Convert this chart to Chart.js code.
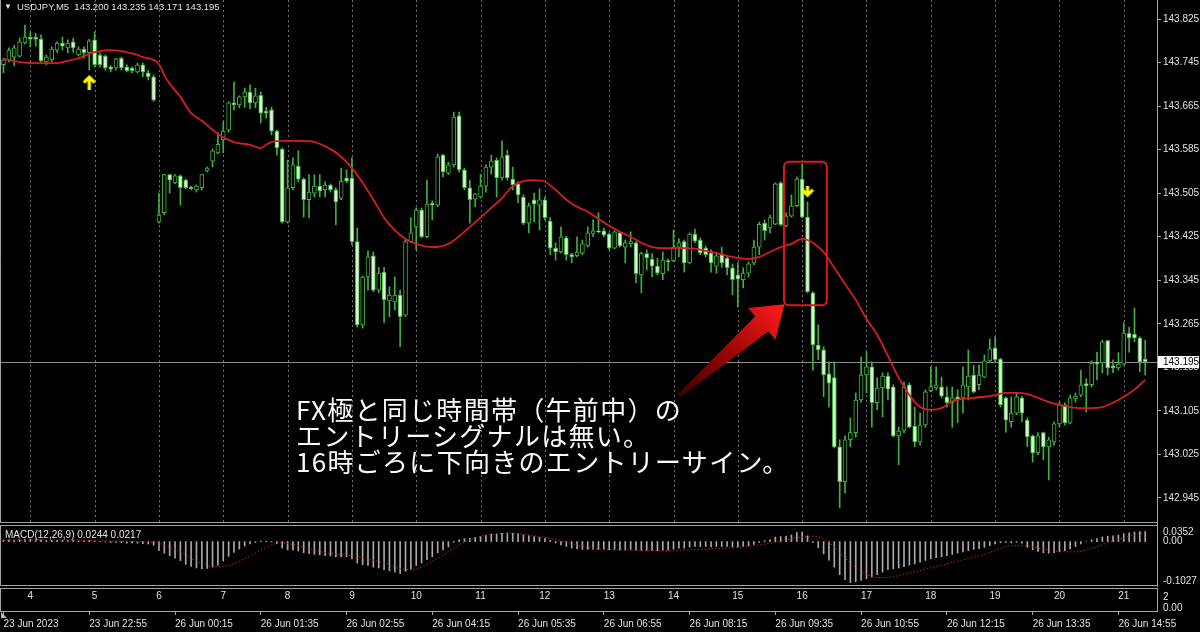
<!DOCTYPE html>
<html lang="ja"><head><meta charset="utf-8">
<title>USDJPY,M5</title>
<script src="https://cdn.jsdelivr.net/npm/chart.js@4.4.1/dist/chart.umd.min.js"></script>
<style>
html,body{margin:0;padding:0;background:#000;width:1200px;height:632px;overflow:hidden;}
#wrap{position:relative;width:1200px;height:632px;background:#000;}
canvas{position:absolute;left:0;}
#cMain{top:0;} #cMacd{top:523px;} #cBot{top:587px;}
.txt{position:absolute;color:#e2e2e2;font-family:"Liberation Sans",Arial,sans-serif;font-size:10px;line-height:12px;white-space:pre;}
#note{position:absolute;left:296px;top:396px;color:#fafafa;font-family:"Noto Sans CJK JP",sans-serif;font-size:26px;line-height:26px;letter-spacing:1.3px;white-space:nowrap;}
</style></head>
<body>
<div id="wrap">
<canvas id="cMain" width="1200" height="523"></canvas>
<canvas id="cMacd" width="1200" height="64"></canvas>
<canvas id="cBot" width="1200" height="45"></canvas>
<div class="txt" style="left:4px;top:1px;font-size:8px;">▼</div>
<div class="txt" id="hdr" style="left:17px;top:1px;font-size:9.5px;"></div>
<div class="txt" id="macdLbl" style="left:5px;top:529px;"></div>
<div id="note">FX極と同じ時間帯（午前中）の<br>エントリーシグナルは無い。<br>16時ごろに下向きのエントリーサイン。</div>
</div>
<script>
// ---------------- data ----------------
const symbol = 'USDJPY,M5';
const openP = [
143.741,143.750,143.755,143.757,143.781,143.792,143.792,143.788,143.746,143.750,
143.768,143.781,143.772,143.783,143.759,143.770,143.763,143.787,143.759,143.757,
143.737,143.735,143.753,143.737,143.735,143.728,143.741,143.726,143.719,143.452,
143.469,143.539,143.524,143.537,143.529,143.516,143.511,143.515,143.546,143.564,
143.579,143.603,143.621,143.671,143.667,143.682,143.691,143.671,143.685,143.656,
143.658,143.619,143.586,143.452,143.515,143.555,143.531,143.493,143.505,143.518,
143.511,143.520,143.511,143.496,143.533,143.533,143.416,143.263,143.351,143.390,
143.327,143.360,143.307,143.305,143.318,143.281,143.416,143.443,143.474,143.425,
143.487,143.483,143.575,143.542,143.557,143.647,143.548,143.515,143.494,143.498,
143.518,143.553,143.566,143.533,143.575,143.531,143.522,143.498,143.450,143.493,
143.483,143.493,143.454,143.404,143.397,143.423,143.392,143.390,143.395,143.408,
143.430,143.436,143.436,143.430,143.404,143.432,143.406,143.412,143.414,143.355,
143.394,143.384,143.371,143.357,143.381,143.381,143.406,143.416,143.377,143.430,
143.419,143.404,143.395,143.371,143.392,143.386,143.368,143.355,143.346,143.358,
143.377,143.406,143.450,143.441,143.448,143.524,143.445,143.463,143.482,143.531,
143.461,143.322,143.226,143.217,143.173,143.166,143.039,142.975,143.052,143.065,
143.125,143.171,143.186,143.120,143.147,143.169,143.149,143.059,143.068,143.153,
143.077,143.048,143.079,143.142,143.147,143.149,143.131,143.120,143.131,143.129,
143.149,143.171,143.153,143.167,143.197,143.221,143.200,143.129,143.085,143.101,
143.129,143.088,143.059,143.028,143.065,143.039,143.048,143.081,143.116,143.083,
143.127,143.134,143.155,143.153,143.195,143.193,143.234,143.188,143.184,143.191,
143.248,143.246,143.239,143.200];
const highP = [
143.753,143.772,143.777,143.790,143.814,143.801,143.799,143.796,143.759,143.774,
143.783,143.792,143.787,143.790,143.774,143.774,143.788,143.801,143.763,143.759,
143.739,143.753,143.755,143.741,143.737,143.744,143.744,143.731,143.722,143.505,
143.540,143.540,143.539,143.539,143.531,143.518,143.520,143.540,143.553,143.586,
143.616,143.636,143.673,143.709,143.684,143.698,143.704,143.698,143.691,143.663,
143.663,143.621,143.588,143.566,143.570,143.583,143.533,143.539,143.539,143.539,
143.526,143.522,143.515,143.551,143.548,143.570,143.441,143.353,143.399,143.397,
143.369,143.369,143.333,143.351,143.327,143.419,143.460,143.478,143.478,143.529,
143.491,143.577,143.577,143.562,143.654,143.654,143.551,143.529,143.505,143.540,
143.557,143.575,143.570,143.601,143.584,143.553,143.526,143.502,143.487,143.505,
143.513,143.498,143.460,143.414,143.443,143.426,143.395,143.425,143.419,143.443,
143.456,143.469,143.441,143.432,143.436,143.434,143.419,143.434,143.416,143.397,
143.401,143.394,143.386,143.397,143.384,143.437,143.421,143.419,143.432,143.439,
143.423,143.408,143.401,143.395,143.406,143.388,143.375,143.377,143.368,143.379,
143.419,143.452,143.456,143.465,143.524,143.526,143.469,143.502,143.535,143.559,
143.489,143.324,143.263,143.223,143.195,143.195,143.052,143.059,143.092,143.138,
143.204,143.213,143.195,143.166,143.175,143.175,143.153,143.075,143.158,143.156,
143.112,143.101,143.144,143.186,143.186,143.167,143.149,143.149,143.144,143.186,
143.217,143.189,143.189,143.208,143.237,143.241,143.202,143.131,143.131,143.138,
143.132,143.092,143.061,143.065,143.066,143.057,143.085,143.121,143.120,143.134,
143.138,143.180,143.164,143.197,143.213,143.235,143.235,143.199,143.212,143.267,
143.259,143.294,143.241,143.235];
const lowP = [
143.726,143.746,143.739,143.755,143.779,143.774,143.775,143.746,143.741,143.746,
143.763,143.768,143.763,143.764,143.757,143.753,143.731,143.737,143.737,143.731,
143.728,143.731,143.731,143.728,143.726,143.726,143.719,143.713,143.674,143.450,
143.465,143.505,143.522,143.483,143.513,143.511,143.507,143.511,143.544,143.553,
143.577,143.579,143.617,143.658,143.662,143.663,143.660,143.662,143.634,143.643,
143.612,143.575,143.450,143.450,143.511,143.526,143.461,143.460,143.498,143.498,
143.498,143.507,143.447,143.493,143.524,143.410,143.259,143.257,143.327,143.324,
143.322,143.267,143.278,143.290,143.223,143.278,143.414,143.401,143.423,143.423,
143.456,143.480,143.535,143.539,143.553,143.544,143.511,143.450,143.480,143.496,
143.507,143.540,143.498,143.529,143.529,143.511,143.487,143.447,143.432,143.452,
143.437,143.456,143.392,143.382,143.395,143.382,143.377,143.388,143.392,143.406,
143.425,143.432,143.425,143.401,143.403,143.406,143.377,143.406,143.340,143.322,
143.364,143.351,143.355,143.346,143.362,143.379,143.388,143.360,143.375,143.414,
143.392,143.388,143.360,143.358,143.369,143.355,143.318,143.296,143.331,143.351,
143.373,143.392,143.419,143.432,143.447,143.445,143.443,143.461,143.480,143.460,
143.322,143.180,143.199,143.131,143.112,143.037,142.927,142.954,143.039,143.057,
143.121,143.138,143.075,143.107,143.094,143.125,143.057,143.006,143.065,143.074,
143.039,143.042,143.075,143.140,143.144,143.129,143.112,143.075,143.083,143.101,
143.125,143.138,143.144,143.166,143.195,143.195,143.112,143.066,143.075,143.098,
143.085,143.039,143.011,143.024,143.015,142.978,143.042,143.075,143.079,143.081,
143.121,143.131,143.103,143.149,143.162,143.175,143.171,143.175,143.180,143.189,
143.213,143.232,143.177,143.171];
const closeP = [
143.750,143.768,143.772,143.783,143.792,143.788,143.788,143.748,143.755,143.770,
143.781,143.775,143.781,143.772,143.770,143.763,143.785,143.741,143.741,143.735,
143.733,143.752,143.735,143.730,143.730,143.741,143.728,143.719,143.676,143.465,
143.539,143.529,143.537,143.515,143.515,143.513,143.518,143.539,143.551,143.583,
143.595,143.619,143.671,143.667,143.682,143.691,143.671,143.684,143.652,143.652,
143.619,143.588,143.452,143.515,143.557,143.531,143.493,143.507,143.518,143.509,
143.520,143.511,143.489,143.527,143.527,143.416,143.263,143.351,143.388,143.327,
143.358,143.309,143.318,143.318,143.278,143.416,143.432,143.474,143.425,143.485,
143.483,143.572,143.544,143.557,143.645,143.548,143.515,143.493,143.504,143.518,
143.553,143.564,143.533,143.572,143.533,143.520,143.502,143.450,143.482,143.485,
143.493,143.460,143.404,143.397,143.425,143.392,143.388,143.397,143.412,143.432,
143.436,143.434,143.428,143.404,143.434,143.408,143.414,143.416,143.357,143.394,
143.386,143.371,143.358,143.382,143.379,143.406,143.414,143.377,143.430,143.417,
143.395,143.392,143.377,143.390,143.377,143.368,143.346,143.347,143.358,143.375,
143.406,143.448,143.436,143.460,143.522,143.447,143.463,143.482,143.531,143.461,
143.324,143.226,143.217,143.171,143.156,143.039,142.975,143.052,143.065,143.125,
143.171,143.186,143.120,143.147,143.169,143.145,143.059,143.068,143.149,143.075,
143.048,143.079,143.140,143.149,143.153,143.132,143.120,143.129,143.125,143.153,
143.169,143.140,143.171,143.197,143.219,143.199,143.116,143.088,143.101,143.131,
143.101,143.057,143.028,143.059,143.039,143.052,143.081,143.116,143.083,143.129,
143.132,143.153,143.151,143.193,143.191,143.232,143.184,143.184,143.191,143.248,
143.239,143.239,143.195,143.195];

// moving average (red line), read at these bars
const maBars = [0,3,6,10,12,14,16,17,18,20,22,23,25,26,27,28,29,30,31,33,35,37,40,43,46,48,49,50,52,55,58,61,63,65,67,69,71,73,75,77,80,83,85,87,89,91,93,95,97,99,101,103,105,107,109,111,113,115,117,119,121,123,125,127,129,131,133,135,137,139,141,143,145,147,149,150,151,153,155,157,159,161,163,165,167,169,171,173,175,177,179,181,183,185,187,189,191,193,195,197,199,201,203,205,207,209,211,213];
const maVals = [143.752,143.746,143.744,143.744,143.748,143.753,143.761,143.764,143.766,143.768,143.766,143.764,143.759,143.755,143.753,143.750,143.742,143.722,143.706,143.682,143.652,143.638,143.614,143.599,143.594,143.588,143.594,143.599,143.601,143.601,143.599,143.586,143.572,143.551,143.524,143.493,143.460,143.437,143.421,143.412,143.406,143.412,143.426,143.443,143.460,143.478,143.496,143.518,143.527,143.529,143.526,143.511,143.493,143.480,143.471,143.458,143.445,143.434,143.425,143.414,143.406,143.404,143.404,143.404,143.403,143.399,143.395,143.390,143.386,143.384,143.388,143.397,143.406,143.412,143.421,143.419,143.414,143.397,143.368,143.338,143.309,143.274,143.245,143.206,143.166,143.134,143.112,143.107,143.110,143.123,143.127,143.129,143.131,143.134,143.138,143.138,143.136,143.129,143.121,143.116,143.112,143.110,143.110,143.112,143.120,143.131,143.144,143.162];

// MACD(12,26,9) histogram (main) per bar
const macdMain = [
0.004,0.004,0.004,0.005,0.006,0.006,0.006,0.004,0.003,0.003,
0.003,0.003,0.003,0.003,0.002,0.002,0.003,0.001,0.000,-0.001,
-0.002,-0.002,-0.003,-0.004,-0.004,-0.004,-0.005,-0.006,-0.009,-0.022,
-0.028,-0.034,-0.040,-0.046,-0.055,-0.060,-0.064,-0.066,-0.065,-0.062,
-0.057,-0.047,-0.036,-0.026,-0.018,-0.011,-0.006,-0.002,0.001,0.001,
-0.001,-0.005,-0.016,-0.020,-0.021,-0.023,-0.027,-0.029,-0.031,-0.032,
-0.034,-0.035,-0.037,-0.037,-0.037,-0.042,-0.052,-0.056,-0.058,-0.062,
-0.064,-0.068,-0.071,-0.074,-0.077,-0.072,-0.066,-0.058,-0.052,-0.044,
-0.037,-0.027,-0.020,-0.013,-0.002,0.004,0.007,0.008,0.010,0.012,
0.015,0.018,0.018,0.020,0.021,0.020,0.019,0.016,0.014,0.012,
0.010,0.007,0.003,-0.003,-0.008,-0.012,-0.016,-0.018,-0.019,-0.019,
-0.019,-0.019,-0.019,-0.020,-0.020,-0.020,-0.020,-0.019,-0.021,-0.021,
-0.021,-0.022,-0.022,-0.021,-0.020,-0.018,-0.016,-0.016,-0.013,-0.012,
-0.012,-0.012,-0.013,-0.012,-0.012,-0.012,-0.013,-0.013,-0.012,-0.010,
-0.007,-0.002,0.002,0.005,0.011,0.012,0.013,0.016,0.022,0.023,
0.014,-0.002,-0.015,-0.030,-0.045,-0.062,-0.080,-0.092,-0.099,-0.097,
-0.094,-0.090,-0.086,-0.080,-0.074,-0.068,-0.066,-0.064,-0.061,-0.057,
-0.054,-0.050,-0.046,-0.042,-0.039,-0.037,-0.034,-0.031,-0.028,-0.025,
-0.022,-0.019,-0.017,-0.014,-0.010,-0.006,-0.003,-0.002,-0.003,-0.002,
-0.004,-0.014,-0.020,-0.024,-0.027,-0.028,-0.027,-0.025,-0.022,-0.018,
-0.012,-0.006,0.000,0.004,0.007,0.011,0.013,0.014,0.015,0.019,
0.021,0.023,0.024,0.0244];
// signal line, read at these bars
const sigBars = [0,10,20,28,30,33,36,39,41,44,47,50,52,54,57,60,64,67,71,74,76,78,81,83,85,87,89,92,95,98,101,104,107,110,113,118,123,128,133,137,140,143,146,149,151,153,155,157,159,161,163,165,168,172,176,180,183,186,188,190,194,197,200,203,206,209,211,213];
const sigVals = [0.003,0.004,0.001,-0.002,-0.008,-0.025,-0.047,-0.060,-0.060,-0.048,-0.028,-0.008,-0.003,-0.007,-0.017,-0.027,-0.033,-0.039,-0.052,-0.066,-0.068,-0.062,-0.040,-0.025,-0.008,0.004,0.013,0.019,0.020,0.016,0.010,0.002,-0.008,-0.016,-0.019,-0.021,-0.022,-0.020,-0.017,-0.014,-0.010,-0.004,0.004,0.011,0.013,0.006,-0.013,-0.040,-0.063,-0.079,-0.087,-0.087,-0.079,-0.067,-0.054,-0.041,-0.031,-0.017,-0.010,-0.010,-0.018,-0.024,-0.025,-0.017,-0.003,0.009,0.016,0.0217];

// signal arrows
const arrowBars = [16, 150];
const arrowPrices = [143.709, 143.508];
const arrowDirs = ['up', 'down'];

// axes / labels
const priceTicks = [142.945,143.025,143.105,143.185,143.265,143.345,143.425,143.505,143.585,143.665,143.745,143.825];
const macdTicks = [0.0352, 0.00, -0.1027];
const macdTickText = ['0.0352', '0.00', '-0.1027'];
const hourBars = [5,17,29,41,53,65,77,89,101,113,125,137,149,161,173,185,197,209];
const hourLabels = ['4','5','6','7','8','9','10','11','12','13','14','15','16','17','18','19','20','21'];
const timeBars = [0,16,32,48,64,80,96,112,128,144,160,176,192,208];
const timeLabels = ['23 Jun 2023','23 Jun 22:55','26 Jun 00:15','26 Jun 01:35','26 Jun 02:55','26 Jun 04:15','26 Jun 05:35','26 Jun 06:55','26 Jun 08:15','26 Jun 09:35','26 Jun 10:55','26 Jun 12:15','26 Jun 13:35','26 Jun 14:55'];
const macdLast = [0.0244, 0.0217];

// annotation (data coordinates)
const boxBars = [145.6, 153.6];
const boxPrices = [143.563, 143.299];
const pointerFrom = [126.0, 143.133];
const pointerTo = [145.7, 143.301];

// ---------------- styling / layout ----------------
const X_MIN = -0.653, X_MAX = 215.2;
const AXIS_W = 43;
const GREEN = '#3fb03f';
const BEAR_FILL = '#d6f5cc';
const FRAME = '#a4a4a4';
const TXT = '#e0e0e0';
const FONT = '"Liberation Sans", Arial, sans-serif';
const N = openP.length;
const lastPrice = closeP[N-1];

document.getElementById('hdr').textContent =
  symbol + '  ' + [openP[N-1], highP[N-1], lowP[N-1], closeP[N-1]].map(v=>v.toFixed(3)).join(' ');
document.getElementById('macdLbl').textContent = 'MACD(12,26,9) ' + macdLast[0].toFixed(4) + ' ' + macdLast[1].toFixed(4);

function xScaleCfg(extra){
  return Object.assign({type:'linear', min:X_MIN, max:X_MAX, offset:false, display:false}, extra||{});
}
function fixY(s){ s.width = AXIS_W; s.paddingTop = 0; s.paddingBottom = 0; }

function makeArrow(up){
  const c = document.createElement('canvas'); c.width = 14; c.height = up ? 15 : 12;
  const g = c.getContext('2d');
  g.strokeStyle = '#ffff00'; g.lineWidth = 3.2; g.lineJoin = 'miter'; g.lineCap = 'butt';
  g.beginPath();
  if (up) { g.moveTo(7,15); g.lineTo(7,2.5); g.moveTo(1.6,7.9); g.lineTo(7,2.5); g.lineTo(12.4,7.9); }
  else { g.moveTo(7,0); g.lineTo(7,9.5); g.moveTo(1.6,4.1); g.lineTo(7,9.5); g.lineTo(12.4,4.1); }
  g.stroke();
  return c;
}

// ---------------- main chart ----------------
const mainDecor = {
  id: 'mainDecor',
  beforeDatasetsDraw(chart){
    const {ctx, chartArea:a, scales:{x, y}} = chart;
    ctx.save();
    ctx.lineWidth = 1; ctx.strokeStyle = '#707070'; ctx.setLineDash([2,3]);
    hourBars.forEach(b => {
      const px = Math.round(x.getPixelForValue(b)) + 0.5;
      ctx.beginPath(); ctx.moveTo(px, a.top); ctx.lineTo(px, a.bottom); ctx.stroke();
    });
    ctx.setLineDash([]);
    const py = Math.round(y.getPixelForValue(lastPrice)) + 0.5;
    ctx.strokeStyle = '#8c8c8c';
    ctx.beginPath(); ctx.moveTo(a.left, py); ctx.lineTo(a.right, py); ctx.stroke();
    ctx.restore();
  },
  afterDatasetsDraw(chart){
    const {ctx, scales:{x, y}} = chart;
    ctx.save();
    // pointer arrow
    const tx = x.getPixelForValue(pointerFrom[0]), ty = y.getPixelForValue(pointerFrom[1]);
    const hx = x.getPixelForValue(pointerTo[0]), hy = y.getPixelForValue(pointerTo[1]);
    const dx = hx - tx, dy = hy - ty, len = Math.hypot(dx, dy);
    const ux = dx/len, uy = dy/len, nx = -uy, ny = ux;
    const headLen = 30, headHalf = 21, shaftHalf = 10, tailHalf = 2;
    const bx = hx - ux*headLen, by = hy - uy*headLen;
    const grad = ctx.createLinearGradient(tx, ty, hx, hy);
    grad.addColorStop(0, '#3a0000'); grad.addColorStop(0.5, '#a00606'); grad.addColorStop(1, '#ff1c1c');
    ctx.fillStyle = grad;
    ctx.beginPath();
    ctx.moveTo(tx + nx*tailHalf, ty + ny*tailHalf);
    ctx.lineTo(bx + nx*shaftHalf, by + ny*shaftHalf);
    ctx.lineTo(bx + nx*headHalf, by + ny*headHalf);
    ctx.lineTo(hx, hy);
    ctx.lineTo(bx - nx*headHalf, by - ny*headHalf);
    ctx.lineTo(bx - nx*shaftHalf, by - ny*shaftHalf);
    ctx.lineTo(tx - nx*tailHalf, ty - ny*tailHalf);
    ctx.closePath(); ctx.fill();
    // highlight box
    const x0 = x.getPixelForValue(boxBars[0]), x1 = x.getPixelForValue(boxBars[1]);
    const y0 = y.getPixelForValue(boxPrices[0]), y1 = y.getPixelForValue(boxPrices[1]);
    ctx.strokeStyle = '#e01818'; ctx.lineWidth = 2;
    ctx.beginPath(); ctx.roundRect(x0, y0, x1-x0, y1-y0, 5); ctx.stroke();
    ctx.restore();
  },
  afterDraw(chart){
    const {ctx, chartArea:a, scales:{y}} = chart;
    ctx.save();
    ctx.strokeStyle = FRAME; ctx.lineWidth = 1;
    ctx.beginPath(); ctx.moveTo(0.5, 0); ctx.lineTo(0.5, a.bottom); ctx.stroke();
    ctx.beginPath(); ctx.moveTo(0, a.bottom - 0.5); ctx.lineTo(a.right, a.bottom - 0.5); ctx.stroke();
    // current price label
    const py = Math.round(y.getPixelForValue(lastPrice));
    ctx.fillStyle = '#ffffff';
    ctx.fillRect(a.right + 1, py - 6, 1200 - a.right - 2, 12);
    ctx.fillStyle = '#000000'; ctx.font = '10px ' + FONT; ctx.textBaseline = 'middle'; ctx.textAlign = 'left';
    ctx.fillText(lastPrice.toFixed(3), a.right + 6, py + 0.5);
    ctx.restore();
  }
};

const bullBear = openP.map((o,i) => closeP[i] >= o ? '#000000' : BEAR_FILL);

new Chart(document.getElementById('cMain'), {
  type: 'bar',
  data: { datasets: [
    { type:'line', label:'MA', data: maBars.map((b,k)=>({x:b, y:maVals[k]})), borderColor:'#d61e1e', borderWidth:1.8, pointRadius:0, cubicInterpolationMode:'monotone', order:0 },
    { type:'line', label:'signals', data: arrowBars.map((b,k)=>({x:b, y:arrowPrices[k]})), showLine:false, pointRadius:4, pointStyle: arrowDirs.map(d=>makeArrow(d==='up')), order:0 },
    { label:'body', data: openP.map((o,i)=>({x:i, y:[o, closeP[i]]})), backgroundColor: bullBear, borderColor: GREEN, borderWidth:1, borderSkipped:false, barThickness:4, minBarLength:1, grouped:false, order:1 },
    { label:'wick', data: openP.map((o,i)=>({x:i, y:[lowP[i], highP[i]]})), backgroundColor: GREEN, borderWidth:0, barThickness:1, grouped:false, order:2 }
  ]},
  options: {
    responsive:false, animation:false, devicePixelRatio:1, events:[],
    layout:{padding:0, autoPadding:false},
    plugins:{legend:{display:false}, tooltip:{enabled:false}},
    scales:{
      x: xScaleCfg(),
      y: { position:'right', min:142.899, max:143.860, afterFit:fixY,
           afterBuildTicks(s){ s.ticks = priceTicks.map(v=>({value:v})); },
           ticks:{ color:TXT, font:{family:FONT, size:10}, padding:2, callback:(v)=>Number(v).toFixed(3) },
           grid:{ drawOnChartArea:false, drawTicks:true, tickLength:4, tickColor:FRAME },
           border:{ display:true, color:FRAME } }
    }
  },
  plugins:[mainDecor]
});

// ---------------- MACD chart ----------------
const macdDecor = {
  id:'macdDecor',
  afterDraw(chart){
    const {ctx, chartArea:a} = chart;
    ctx.save();
    ctx.strokeStyle = FRAME; ctx.lineWidth = 1;
    ctx.beginPath(); ctx.moveTo(0, 2.5); ctx.lineTo(a.right, 2.5); ctx.stroke();
    ctx.beginPath(); ctx.moveTo(0, 62.5); ctx.lineTo(a.right, 62.5); ctx.stroke();
    ctx.beginPath(); ctx.moveTo(0.5, 2); ctx.lineTo(0.5, 63); ctx.stroke();
    ctx.beginPath(); ctx.moveTo(a.right + 0.5, 0); ctx.lineTo(a.right + 0.5, 64); ctx.stroke();
    ctx.fillStyle = TXT; ctx.font = '10px ' + FONT; ctx.textBaseline = 'middle'; ctx.textAlign = 'left';
    const ys = [9, 18, 58];
    macdTickText.forEach((t,k)=> ctx.fillText(t, a.right + 6, ys[k]));
    ctx.restore();
  }
};
new Chart(document.getElementById('cMacd'), {
  type:'bar',
  data:{ datasets:[
    { type:'line', label:'Signal', data: sigBars.map((b,k)=>({x:b, y:sigVals[k]})), borderColor:'#c42222', borderWidth:1, borderDash:[1.5,2], pointRadius:0, cubicInterpolationMode:'monotone', order:0 },
    { label:'MACD', data: macdMain.map((v,i)=>({x:i, y:v})), backgroundColor:'#a8a8a8', borderWidth:0, barThickness:1, grouped:false, order:1 }
  ]},
  options:{
    responsive:false, animation:false, devicePixelRatio:1, events:[],
    layout:{padding:{top:4, bottom:3, left:0, right:0}, autoPadding:false},
    plugins:{legend:{display:false}, tooltip:{enabled:false}},
    scales:{
      x: xScaleCfg(),
      y: { position:'right', min:macdTicks[2], max:macdTicks[0], afterFit:fixY,
           ticks:{display:false}, grid:{display:false}, border:{display:false} }
    }
  },
  plugins:[macdDecor]
});

// ---------------- hours panel + time axis ----------------
const botDecor = {
  id:'botDecor',
  afterDraw(chart){
    const {ctx, chartArea:a, scales:{x}} = chart;
    ctx.save();
    ctx.strokeStyle = FRAME; ctx.lineWidth = 1;
    ctx.beginPath(); ctx.moveTo(0, 1.5); ctx.lineTo(a.right, 1.5); ctx.stroke();
    ctx.beginPath(); ctx.moveTo(0.5, 1); ctx.lineTo(0.5, a.bottom); ctx.stroke();
    ctx.fillStyle = TXT; ctx.font = '10px ' + FONT; ctx.textBaseline = 'middle'; ctx.textAlign = 'center';
    hourBars.forEach((b,k)=> ctx.fillText(hourLabels[k], x.getPixelForValue(b), 9.5));
    ctx.textAlign = 'left';
    ctx.fillText('2', a.right + 6, 10);
    ctx.fillText('0.00', a.right + 6, 21);
    ctx.fillStyle = '#b8b8b8';
    ctx.beginPath(); ctx.moveTo(1, a.bottom + 1); ctx.lineTo(1, a.bottom + 7); ctx.lineTo(7, a.bottom + 7); ctx.closePath(); ctx.fill();
    ctx.restore();
  }
};
new Chart(document.getElementById('cBot'), {
  type:'line',
  data:{ datasets:[ { label:'hours', data:[], pointRadius:0 } ] },
  options:{
    responsive:false, animation:false, devicePixelRatio:1, events:[],
    layout:{padding:{top:1, left:0, right:0, bottom:0}, autoPadding:false},
    plugins:{legend:{display:false}, tooltip:{enabled:false}},
    scales:{
      x: { type:'linear', min:X_MIN, max:X_MAX, offset:false, position:'bottom',
           afterBuildTicks(s){ s.ticks = timeBars.map(v=>({value:v})); },
           afterFit(s){ s.height = 21; s.paddingLeft = 0; s.paddingRight = 0; },
           ticks:{ color:TXT, font:{family:FONT, size:10}, align:'start', autoSkip:false, maxRotation:0, minRotation:0, padding:3,
                   callback:(v,i)=>timeLabels[i] },
           grid:{ drawOnChartArea:false, drawTicks:true, tickLength:4, tickColor:FRAME },
           border:{ display:true, color:FRAME } },
      y: { position:'right', min:0, max:2, afterFit:fixY, ticks:{display:false}, grid:{display:false},
           border:{display:true, color:FRAME} }
    }
  },
  plugins:[botDecor]
});
</script>
</body></html>
